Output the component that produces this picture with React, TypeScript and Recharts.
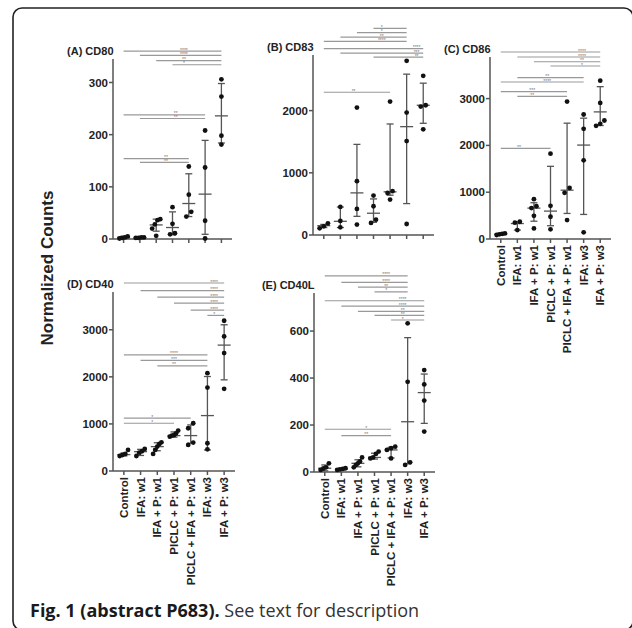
import { ScatterChart, Scatter, XAxis, YAxis, ErrorBar, ReferenceLine, ReferenceDot } from "recharts";

const FONT = "'Liberation Sans', Arial, Helvetica, sans-serif";

const groups = [
  "Control",
  "IFA: w1",
  "IFA + P: w1",
  "PICLC + P: w1",
  "PICLC + IFA + P: w1",
  "IFA: w3",
  "IFA + P: w3",
];

// [from group, to group, y value, stars, star position]
type Sig = [number, number, number, string, number];

// (A) CD80
const cd80Points = [
  [5, 3, 2, 1],
  [3, 2, 2, 3],
  [38, 36, 28, 20, 6],
  [61, 29, 11, 9],
  [139, 85, 52, 43],
  [208, 137, 35, 1],
  [306, 273, 198, 181],
];
const cd80Mean = [3, 2.5, 27, 22, 68, 86, 236];
const cd80Low = [1, 2, 15, 8, 43, 9, 184];
const cd80High = [5, 3, 38, 52, 125, 189, 298];
const cd80Sig: Sig[] = [
  [0, 6, 360, "****", 3.7],
  [1, 6, 352, "****", 3.7],
  [2, 6, 342, "**", 3.7],
  [3, 6, 334, "*", 3.7],
  [0, 5, 238, "**", 3.2],
  [1, 5, 231, "**", 3.2],
  [0, 4, 154, "**", 2.6],
  [1, 4, 147, "**", 2.6],
];

// (B) CD83
const cd83Points = [
  [188, 140, 108],
  [452, 226, 124],
  [2048, 866, 419, 167],
  [634, 462, 247, 194],
  [2145, 704, 677, 570],
  [2800, 1968, 1510, 177],
  [2559, 2086, 2065, 1699],
];
const cd83Mean = [150, 220, 677, 350, 694, 1742, 2086];
const cd83Low = [120, 120, 300, 204, 640, 505, 1796];
const cd83High = [170, 450, 1457, 580, 1785, 2586, 2441];
const cd83Sig: Sig[] = [
  [3, 5, 3323, "*", 3.5],
  [2, 5, 3253, "*", 3.5],
  [1, 5, 3182, "**", 3.5],
  [0, 5, 3113, "****", 3.5],
  [0, 6, 2995, "****", 5.6],
  [1, 6, 2924, "***", 5.6],
  [3, 6, 2860, "**", 5.6],
  [0, 4, 2295, "**", 1.8],
];

// (C) CD86
const cd86Points = [
  [120, 110, 99, 85],
  [369, 348, 191],
  [851, 700, 660, 496, 227],
  [1823, 709, 475, 206],
  [2936, 1092, 986, 404],
  [2660, 2355, 1681, 142],
  [3383, 2908, 2532, 2461, 2418],
];
const cd86Mean = [100, 330, 660, 596, 1043, 2007, 2716];
const cd86Low = [85, 191, 380, 284, 546, 525, 2425];
const cd86High = [120, 369, 775, 1553, 2475, 2582, 3255];
const cd86Sig: Sig[] = [
  [0, 6, 3996, "****", 4.9],
  [1, 6, 3889, "****", 4.9],
  [2, 6, 3788, "**", 4.9],
  [3, 6, 3697, "*", 4.9],
  [1, 5, 3447, "**", 2.8],
  [0, 5, 3355, "****", 2.8],
  [0, 4, 3147, "***", 1.9],
  [1, 4, 3049, "**", 1.9],
  [0, 3, 1938, "**", 1.1],
];

// (D) CD40
const cd40Points = [
  [447, 362, 340, 319],
  [468, 420, 390, 319],
  [610, 574, 518, 447, 362],
  [858, 801, 760, 752, 730],
  [1014, 908, 603, 553],
  [2078, 1773, 589, 461],
  [3191, 2858, 2504, 1745],
];
const cd40Mean = [348, 411, 518, 752, 752, 1177, 2674];
const cd40Low = [320, 330, 430, 720, 589, 447, 1936];
const cd40High = [380, 460, 600, 830, 979, 2007, 3106];
const cd40Sig: Sig[] = [
  [0, 6, 3993, "****", 5.4],
  [1, 6, 3830, "****", 5.4],
  [2, 6, 3695, "****", 5.4],
  [3, 6, 3567, "****", 5.4],
  [4, 6, 3418, "****", 5.4],
  [5, 6, 3305, "*", 5.4],
  [0, 5, 2468, "****", 3.0],
  [1, 5, 2348, "***", 3.0],
  [2, 5, 2234, "**", 3.0],
  [0, 4, 1121, "*", 1.7],
  [0, 3, 1014, "*", 1.7],
];

// (E) CD40L
const cd40lPoints = [
  [37, 20, 15, 9],
  [16, 13, 11, 9],
  [62, 45, 37, 30, 20],
  [87, 77, 62, 58],
  [108, 101, 94, 58],
  [633, 384, 41, 30],
  [434, 373, 304, 172],
];
const cd40lMean = [16, 12, 37, 62, 94, 214, 338];
const cd40lLow = [5, 9, 22, 55, 60, 35, 207];
const cd40lHigh = [30, 15, 52, 80, 105, 572, 417];
const cd40lSig: Sig[] = [
  [0, 5, 835, "****", 3.7],
  [1, 5, 807, "****", 3.7],
  [2, 5, 787, "**", 3.7],
  [3, 5, 767, "*", 3.7],
  [0, 6, 729, "****", 4.7],
  [1, 6, 706, "****", 4.7],
  [2, 6, 684, "**", 4.7],
  [3, 6, 667, "**", 4.7],
  [4, 6, 647, "*", 4.7],
  [0, 4, 182, "*", 2.5],
  [1, 4, 155, "**", 2.5],
];

const X_DOMAIN: [number, number] = [-0.65, 6.65];
const X_TICKS = [0, 1, 2, 3, 4, 5, 6];
const PAD_L = 60;
const PAD_T = 60;
const PAD_R = 10;
const PAD_B = 130;

// nudge points that would sit on top of each other, like a dot plot
function spread(vals: number[], yMax: number) {
  const sorted = [...vals].sort((a, b) => a - b);
  const gap = yMax * 0.028;
  const out: { v: number; dx: number }[] = [];
  let cluster: number[] = [];
  const flush = () => {
    const n = cluster.length;
    const step = n > 1 ? Math.min(0.3, 0.5 / (n - 1)) : 0;
    cluster.forEach((v, k) => out.push({ v, dx: (k - (n - 1) / 2) * step }));
    cluster = [];
  };
  sorted.forEach((v) => {
    if (cluster.length && v - cluster[cluster.length - 1] > gap) flush();
    cluster.push(v);
  });
  flush();
  return out;
}

const Dot = (p: any) => <circle cx={p.cx} cy={p.cy} r={2.4} fill="#111" />;
const MeanLine = (p: any) => (
  <line x1={p.cx - 6.5} x2={p.cx + 6.5} y1={p.cy} y2={p.cy} stroke="#555" strokeWidth={1.3} />
);

const starLabel = (stars: string) => (props: any) => {
  const vb = props.viewBox || { x: 0, y: 0, width: 0, height: 0 };
  return (
    <text
      x={vb.x + (vb.width || 0) / 2}
      y={vb.y + (vb.height || 0) / 2 + 0.6}
      textAnchor="middle"
      fontSize={5}
      fill="#777"
      fontFamily={FONT}
    >
      {stars}
    </text>
  );
};

interface PanelProps {
  left: number;
  top: number;
  width: number;
  height: number;
  yMax: number;
  yTicks: number[];
  points: number[][];
  mean: number[];
  low: number[];
  high: number[];
  sig: Sig[];
  labels: boolean;
}

function Panel(p: PanelProps) {
  const pointData = p.points.flatMap((vals, i) =>
    spread(vals, p.yMax).map((d) => ({ x: i + d.dx, y: d.v }))
  );
  const summary = p.mean.map((m, i) => ({ x: i, y: m, err: [m - p.low[i], p.high[i] - m] }));

  const xTick = (t: any) =>
    p.labels ? (
      <text
        x={t.x}
        y={t.y}
        transform={`rotate(-90, ${t.x}, ${t.y})`}
        textAnchor="end"
        dy="0.35em"
        fontSize={11.5}
        fontWeight={700}
        fill="#222"
        fontFamily={FONT}
      >
        {groups[t.payload.value]}
      </text>
    ) : (
      <g />
    );

  return (
    <div style={{ position: "absolute", left: p.left - PAD_L, top: p.top - PAD_T }}>
      <ScatterChart
        width={PAD_L + p.width + PAD_R}
        height={PAD_T + p.height + PAD_B}
        margin={{ top: PAD_T, right: PAD_R, bottom: 0, left: 0 }}
      >
        <XAxis
          type="number"
          dataKey="x"
          domain={X_DOMAIN}
          ticks={X_TICKS}
          interval={0}
          height={PAD_B}
          tickSize={4}
          stroke="#555"
          strokeWidth={1.5}
          tick={xTick}
        />
        <YAxis
          type="number"
          dataKey="y"
          domain={[0, p.yMax]}
          ticks={p.yTicks}
          interval={0}
          width={PAD_L}
          tickSize={4}
          tickMargin={1}
          stroke="#555"
          strokeWidth={1.5}
          tick={{ fill: "#222", fontSize: 11.5, fontWeight: 700, fontFamily: FONT }}
        />
        {p.sig.map(([from, to, y], k) => (
          <ReferenceLine
            key={`l${k}`}
            segment={[
              { x: from, y },
              { x: to, y },
            ]}
            stroke="#999"
            strokeWidth={1.2}
            ifOverflow="visible"
          />
        ))}
        {p.sig.map(([, , y, stars, at], k) => (
          <ReferenceDot
            key={`s${k}`}
            x={at}
            y={y}
            r={0}
            fill="none"
            stroke="none"
            ifOverflow="visible"
            label={starLabel(stars)}
          />
        ))}
        <Scatter data={summary} shape={MeanLine} isAnimationActive={false}>
          <ErrorBar dataKey="err" direction="y" width={3.5} stroke="#555" strokeWidth={1.3} />
        </Scatter>
        <Scatter data={pointData} shape={Dot} isAnimationActive={false} />
      </ScatterChart>
    </div>
  );
}

const titles = [
  { text: "(A) CD80", x: 113.5, y: 54.5 },
  { text: "(B) CD83", x: 313.5, y: 50.5 },
  { text: "(C) CD86", x: 490.5, y: 52.5 },
  { text: "(D) CD40", x: 113.5, y: 287.5 },
  { text: "(E) CD40L", x: 314.5, y: 288.5 },
];

export default function App() {
  return (
    <div
      style={{
        position: "absolute",
        left: 0,
        top: 0,
        width: 632,
        height: 628,
        overflow: "hidden",
        background: "#fff",
      }}
    >
      <svg width={632} height={628} style={{ position: "absolute", left: 0, top: 0 }}>
        <rect x={13} y={8} width={620} height={622} rx={9} fill="none" stroke="#222" strokeWidth={1.6} />
        {titles.map((t) => (
          <text
            key={t.text}
            x={t.x}
            y={t.y}
            textAnchor="end"
            fontSize={11}
            fontWeight={700}
            fill="#222"
            fontFamily={FONT}
          >
            {t.text}
          </text>
        ))}
        <text
          transform="translate(53, 268) rotate(-90)"
          textAnchor="middle"
          fontSize={17}
          fontWeight={700}
          fill="#222"
          fontFamily={FONT}
        >
          Normalized Counts
        </text>
        <text x={30} y={617} fontSize={18} fontFamily="'Open Sans', sans-serif">
          <tspan fontWeight={700} fill="#1a1a1a">
            Fig. 1 (abstract P683).
          </tspan>
          <tspan fill="#333"> See text for description</tspan>
        </text>
      </svg>
      <Panel left={113} top={59} width={119} height={180} yMax={345} yTicks={[0, 100, 200, 300]}
        points={cd80Points} mean={cd80Mean} low={cd80Low} high={cd80High} sig={cd80Sig} labels={false} />
      <Panel left={313} top={55} width={121} height={180} yMax={2894} yTicks={[0, 1000, 2000]}
        points={cd83Points} mean={cd83Mean} low={cd83Low} high={cd83High} sig={cd83Sig} labels={false} />
      <Panel left={490} top={57} width={121} height={182} yMax={3889} yTicks={[0, 1000, 2000, 3000]}
        points={cd86Points} mean={cd86Mean} low={cd86Low} high={cd86High} sig={cd86Sig} labels={true} />
      <Panel left={113} top={292} width={122} height={179} yMax={3802} yTicks={[0, 1000, 2000, 3000]}
        points={cd40Points} mean={cd40Mean} low={cd40Low} high={cd40High} sig={cd40Sig} labels={true} />
      <Panel left={314} top={293} width={121} height={179} yMax={762} yTicks={[0, 200, 400, 600]}
        points={cd40lPoints} mean={cd40lMean} low={cd40lLow} high={cd40lHigh} sig={cd40lSig} labels={true} />
    </div>
  );
}
